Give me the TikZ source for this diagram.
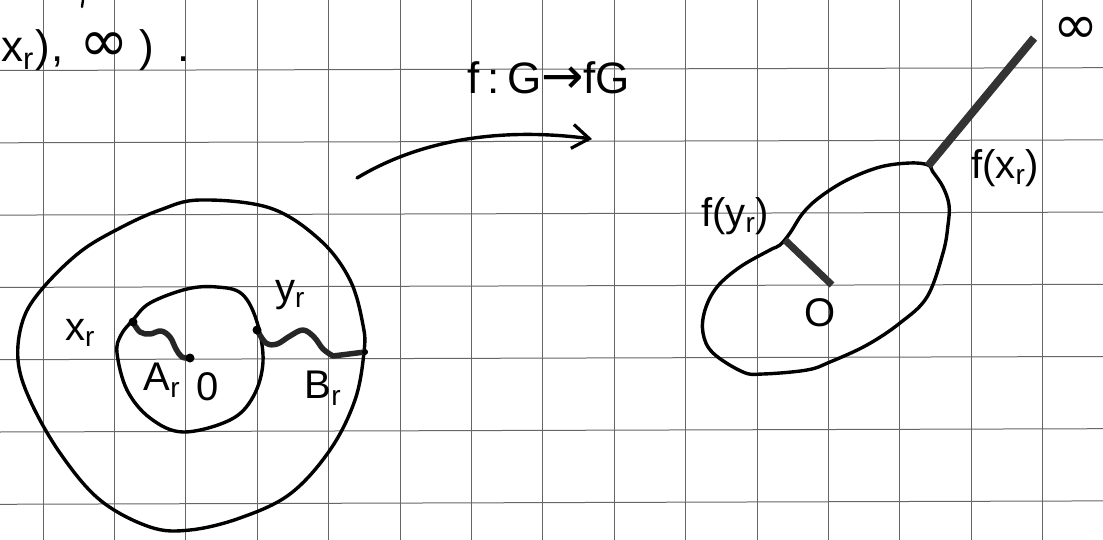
\documentclass[tikz,border=0pt]{standalone}
\usepackage{fontspec}
\setmainfont{Liberation Sans}
\newfontfamily\dejavu{DejaVu Sans}
\usetikzlibrary{arrows.meta}
\newcommand\myinf{\scalebox{1.35}{\dejavu ∞}}
\begin{document}
\begin{tikzpicture}[x=1pt,y=-1pt,
  gridline/.style={black!60, line width=1pt},
  pen/.style={black, line width=3.4pt, line join=round, line cap=round},
  thickpen/.style={black!85, line width=5.5pt, line join=round, line cap=round},
  bar/.style={black!80, line width=8pt},
  dot/.style={circle, fill=black, inner sep=0pt, minimum size=9pt},
  lbl/.style={font=\fontsize{40}{44}\selectfont, inner sep=0pt},
  bigl/.style={font=\fontsize{44}{48}\selectfont, inner sep=0pt}]
\useasboundingbox (0,0) rectangle (1103,540);
\fill[white] (0,0) rectangle (1103,540);
% grid paper
\foreach \k in {0,...,6} {
  \draw[gridline] (0,{70.5+72.3*\k}) -- (1103,{67.7+72.2*\k});
}
\foreach \k in {0,...,14} {
  \draw[gridline] ({43+71.4*\k},0) -- ({43+71.4*\k},540);
}
% top-left text
\node[bigl, anchor=west] (tl) at (1,50) {x\textsubscript{r}\hspace{2pt})\hspace{1pt},\hspace{16pt}\myinf\hspace{10pt})\hspace{24pt}.};
\draw[pen, line width=2.4pt] (83,0) -- (82,7);
% left diagram
\draw[pen] plot[smooth cycle, tension=0.6] coordinates {(200,200) (270,208) (320,240) (350,280) (363,325) (364,352) (355,400) (330,450) (290,494) (240,518) (190,530) (150,527) (100,500) (60,453) (30,400) (18,360) (23,320) (42,289) (80,252) (120,228) (160,210)};
\draw[pen] plot[smooth cycle, tension=0.6] coordinates {(217,287) (242,294) (257,322) (263,362) (253,397) (230,420) (183,432) (150,418) (127,390) (117,353) (121,335) (133,320) (150,303) (187,289)};
\coordinate (xr) at (133,322);
\coordinate (O1) at (190,358);
\coordinate (yr) at (257,330);
\coordinate (Bend) at (365,352);
\draw[thickpen] plot[smooth, tension=0.6] coordinates {(xr) (140,332) (150,334) (161,331) (170,337) (176,349) (182,357) (O1)};
\draw[thickpen] plot[smooth, tension=0.6] coordinates {(yr) (266,343) (277,344) (290,336) (303,330) (314,337) (323,349) (333,356)} -- (Bend);
\node[dot] (dxr) at (xr) {};
\node[dot] (dO1) at (O1) {};
\node[dot] (dyr) at (yr) {};
\node[dot, minimum size=6pt] (dB) at (Bend) {};
\node[lbl] (lxr) at (80,333) {x\textsubscript{r}};
\node[lbl] (lyr) at (290,295) {y\textsubscript{r}};
\node[lbl] (lAr) at (162,380) {A\textsubscript{r}};
\node[lbl] (lO1) at (208,387) {0};
\node[lbl] (lBr) at (323,388) {B\textsubscript{r}};
% map arrow
\node[bigl] (map) at (549,78) {f\,:\,G\scalebox{1.15}{\dejavu →}fG};
\coordinate (aS) at (357,178);
\coordinate (aE) at (592,139);
\draw[pen, -{Straight Barb[length=17pt,width=24pt,line width=3.2pt]}] (aS) .. controls (420,140) and (500,127) .. (aE);
% right diagram
\draw[pen] plot[smooth cycle, tension=0.6] coordinates {(928,165) (910,163) (880,167) (847,180) (820,197) (803,213) (790,233) (780,245) (770,250) (740,267) (717,287) (705,310) (703,333) (713,353) (743,372) (763,374) (807,370) (830,362) (867,345) (900,323) (927,297) (943,253) (948,225) (949,205) (943,187) (933,172)};
\coordinate (fx) at (928,166);
\coordinate (inf) at (1034,38);
\coordinate (fy) at (785,240);
\coordinate (O2end) at (832,285);
\draw[bar] (fx) -- (inf);
\draw[bar, line width=7pt] (fy) -- (O2end);
\node[lbl] (linf) at (1076,30) {\myinf};
\node[lbl] (lfx) at (1005,168) {f(x\textsubscript{r})};
\node[lbl] (lfy) at (735,216) {f(y\textsubscript{r})};
\node[lbl] (lO2) at (820,313) {O};
\end{tikzpicture}
\end{document}
